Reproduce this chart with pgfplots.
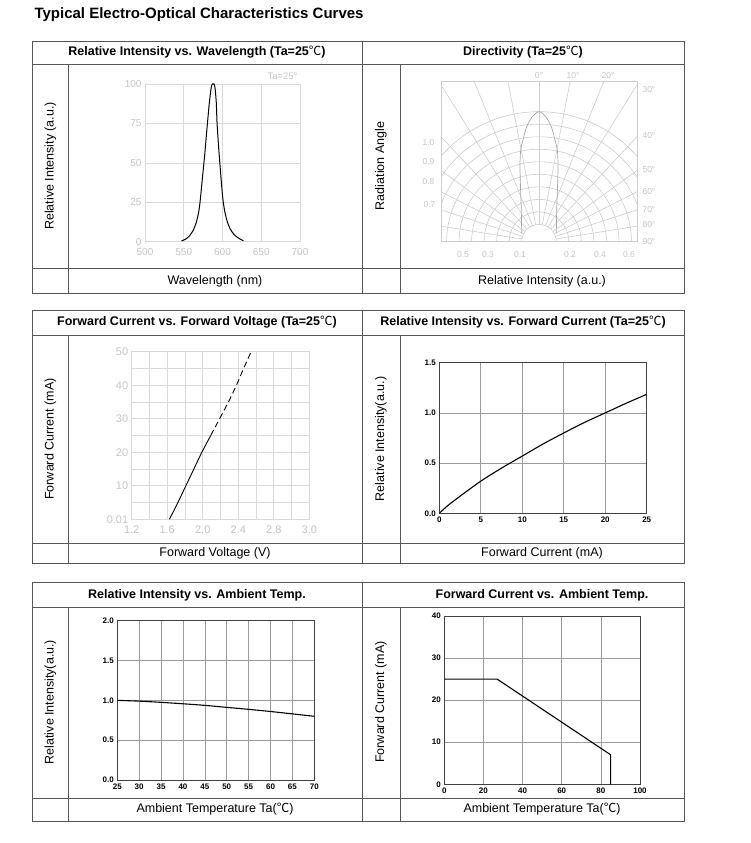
\documentclass[border=0pt]{standalone}
\usepackage{pgfplots}
\pgfplotsset{compat=1.18}
\usepackage{fontspec}
\setmainfont{Liberation Sans}
\newfontfamily\cjk{Noto Sans CJK SC}
\newcommand{\degC}{{\mdseries\cjk ℃}}
\definecolor{boxc}{HTML}{555555}
\definecolor{scan}{HTML}{D9D9D9}
\definecolor{polar}{HTML}{CDCDCD}
\definecolor{scantxt}{HTML}{C4C4C4}
\definecolor{gridc}{HTML}{9A9A9A}
\newcommand{\ttl}{\fontsize{12.5}{15}\selectfont\bfseries}
\newcommand{\lbl}{\fontsize{12.5}{15}\selectfont}
\pgfplotsset{
  scanaxis/.style={anchor=south west, scale only axis, grid=major,
    grid style={scan, line width=0.6pt}, axis line style={scan, line width=0.6pt},
    major tick length=0pt, minor tick length=0pt,
    ticklabel style={font=\fontsize{10}{12}\selectfont, text=scantxt},
    xticklabel style={yshift=-3pt}},
  boldaxis/.style={anchor=south west, scale only axis, grid=major,
    grid style={gridc, line width=0.6pt}, axis line style={black!75, line width=0.7pt},
    major tick length=0pt,
    ticklabel style={font=\fontsize{8}{9}\selectfont\bfseries, text=black}},
}
\begin{document}
\begin{tikzpicture}[x=1pt,y=1pt]
\path (0,0) rectangle (750,843);
\node[anchor=west,font=\fontsize{15}{18}\selectfont\bfseries] at (31,843-15) {Typical Electro-Optical Characteristics Curves};

% ---------- boxes ----------
\begin{scope}[draw=boxc, line width=0.9pt]
% box 1
\draw (32,843-41) rectangle (684,843-293);
\draw (32,843-64) -- (684,843-64);
\draw (32,843-268) -- (684,843-268);
\draw (362,843-41) -- (362,843-293);
\draw (68.5,843-64) -- (68.5,843-293);
\draw (400,843-64) -- (400,843-293);
% box 2
\draw (32,843-310) rectangle (684,843-563);
\draw (32,843-335) -- (684,843-335);
\draw (32,843-543) -- (684,843-543);
\draw (362,843-310) -- (362,843-563);
\draw (68.5,843-335) -- (68.5,843-563);
\draw (400,843-335) -- (400,843-563);
% box 3
\draw (32,843-582) rectangle (684,843-821);
\draw (32,843-607) -- (684,843-607);
\draw (32,843-798) -- (684,843-798);
\draw (362,843-582) -- (362,843-821);
\draw (68.5,843-607) -- (68.5,843-821);
\draw (400,843-607) -- (400,843-821);
\end{scope}

% ---------- titles and labels ----------
\node[font=\ttl] at (197,843-52.5) {Relative Intensity vs. Wavelength (Ta=25\degC)};
\node[font=\ttl] at (523,843-52.5) {Directivity (Ta=25\degC)};
\node[font=\ttl] at (197,843-322.5) {Forward Current vs. Forward Voltage (Ta=25\degC)};
\node[font=\ttl] at (523,843-322.5) {Relative Intensity vs. Forward Current (Ta=25\degC)};
\node[font=\ttl] at (197,843-595) {Relative Intensity vs. Ambient Temp.};
\node[font=\ttl] at (542,843-595) {Forward Current vs. Ambient Temp.};

\node[font=\lbl] at (215,843-281) {Wavelength (nm)};
\node[font=\lbl] at (542,843-281) {Relative Intensity (a.u.)};
\node[font=\lbl] at (215,843-553.5) {Forward Voltage (V)};
\node[font=\lbl] at (542,843-553.5) {Forward Current (mA)};
\node[font=\lbl] at (215,843-809.5) {Ambient Temperature Ta(\degC)};
\node[font=\lbl] at (542,843-809.5) {Ambient Temperature Ta(\degC)};

\node[font=\lbl, rotate=90] at (50.5,843-166) {Relative Intensity (a.u.)};
\node[font=\lbl, rotate=90] at (381,843-166) {Radiation Angle};
\node[font=\lbl, rotate=90] at (50.5,843-439) {Forward Current (mA)};
\node[font=\lbl, rotate=90] at (381,843-439) {Relative Intensity(a.u.)};
\node[font=\lbl, rotate=90] at (50.5,843-702) {Relative Intensity(a.u.)};
\node[font=\lbl, rotate=90] at (381,843-702) {Forward Current (mA)};

% ---------- panel 1: spectrum ----------
\begin{axis}[scanaxis, at={(145pt,601.3pt)}, width=155pt, height=157.7pt,
  xmin=500, xmax=700, ymin=0, ymax=100,
  xtick={500,550,600,650,700}, xticklabels={500,550,600,650,700},
  ytick={0,25,50,75,100}, yticklabels={0,25,50,75,100}]
\addplot[black, line width=1pt, smooth, tension=0.4] coordinates {
(547,0.5) (552,1.5) (557,3.5) (562,7) (566,12) (569,18) (571,25) (574,40)
(577,55) (580,72) (583,88) (585.5,98) (587,100) (589,100) (590.5,97)
(592,88) (593,75) (595,60) (597.5,44) (599.5,32) (601,25) (603,19)
(606,13) (610,8) (615,4.5) (620,2.5) (627,0.5)};
\end{axis}
\node[anchor=east, font=\fontsize{9.5}{11}\selectfont, text=scantxt] at (301,843-76) {Ta=25°};

% ---------- panel 2: directivity ----------
\begin{axis}[anchor=south west, scale only axis, at={(441pt,601.3pt)}, width=196pt, height=160pt,
  xmin=-98, xmax=98, ymin=0, ymax=160, xtick=\empty, ytick=\empty,
  axis line style={polar, line width=0.6pt}]
\pgfplotsinvokeforeach{17.3,29.8,42.3,54.9,67.4,79.9,92.4,104.9,117.5,130}{
  \draw[polar, line width=0.6pt] (axis cs:0,0) circle[radius=#1pt];
}
\pgfplotsinvokeforeach{-90,-81,-72,-63,-54,-43,-32,-22,-11,0,11,22,32,43,54,63,72,81,90}{
  \draw[polar, line width=0.6pt] (axis cs:{17.3*sin(#1)},{17.3*cos(#1)}) -- (axis cs:{220*sin(#1)},{220*cos(#1)});
}
\addplot[gray!70, line width=0.7pt, smooth, tension=0.5] coordinates {
(-17.3,8) (-17.7,31.7) (-18.3,48.3) (-19,75) (-18.3,91.7) (-16,101.7) (-12.3,115)
(-6.7,125) (0,130) (6.7,125) (12.3,115) (16,101.7) (18.3,91.7) (19,75) (18.3,48.3)
(17.7,31.7) (17.3,8)};
\end{axis}
\begin{scope}[font=\fontsize{8.5}{10}\selectfont, text=scantxt]
\node at (539,843-76) {0°};
\node at (573,843-76) {10°};
\node at (608,843-76) {20°};
\node[anchor=west] at (639,843-90) {30°};
\node[anchor=west] at (639,843-136) {40°};
\node[anchor=west] at (639,843-170) {50°};
\node[anchor=west] at (639,843-192) {60°};
\node[anchor=west] at (639,843-210) {70°};
\node[anchor=west] at (639,843-225) {80°};
\node[anchor=west] at (639,843-242) {90°};
\node[anchor=east] at (438,843-143) {1.0};
\node[anchor=east] at (438,843-162) {0.9};
\node[anchor=east] at (438,843-182) {0.8};
\node[anchor=east] at (439,843-205) {0.7};
\node at (463,843-255) {0.5};
\node at (488,843-255) {0.3};
\node at (520,843-255) {0.1};
\node at (570,843-255) {0.2};
\node at (600,843-255) {0.4};
\node at (629,843-255) {0.6};
\end{scope}

% ---------- panel 3: IV ----------
\begin{axis}[scanaxis, at={(131.7pt,323.7pt)}, width=177.6pt, height=167.6pt,
  xmin=1.2, xmax=3.2, ymin=0, ymax=50, grid=both,
  minor grid style={scan, line width=0.6pt},
  xtick={1.2,1.6,2.0,2.4,2.8,3.2}, xticklabels={1.2,1.6,2.0,2.4,2.8,3.0},
  minor xtick={1.4,1.8,2.2,2.6,3.0},
  ytick={0,10,20,30,40,50}, yticklabels={0.01,10,20,30,40,50},
  minor ytick={5,15,25,35,45},
  ticklabel style={font=\fontsize{11}{13}\selectfont, text=scantxt}]
\addplot[black, line width=0.9pt, smooth] coordinates {
(1.625,0) (1.72,5) (1.81,10) (1.90,15) (1.99,20) (2.09,25)};
\addplot[black, line width=0.9pt, dash pattern=on 6pt off 3.5pt] coordinates {
(2.09,25) (2.19,30) (2.29,35) (2.38,40) (2.46,45) (2.545,50)};
\end{axis}

% ---------- panel 4: RI vs IF ----------
\begin{axis}[boldaxis, at={(439.3pt,329.7pt)}, width=207.4pt, height=150.6pt,
  xmin=0, xmax=25, ymin=0, ymax=1.5,
  xtick={0,5,10,15,20,25}, xticklabels={0,5,10,15,20,25},
  ytick={0,0.5,1,1.5}, yticklabels={0.0,0.5,1.0,1.5}]
\addplot[black, line width=1.1pt, smooth] coordinates {
(0,0) (1,0.075) (2.5,0.17) (5,0.32) (7.5,0.45) (10,0.57) (12.5,0.69)
(15,0.80) (17.5,0.905) (20,1.0) (22.5,1.095) (25,1.185)};
\end{axis}

% ---------- panel 5: RI vs Ta ----------
\begin{axis}[boldaxis, at={(117.3pt,63pt)}, width=197pt, height=159.3pt,
  xmin=25, xmax=70, ymin=0, ymax=2,
  xtick={25,30,...,70}, xticklabels={25,30,35,40,45,50,55,60,65,70},
  ytick={0,0.5,1,1.5,2}, yticklabels={0.0,0.5,1.0,1.5,2.0}]
\addplot[black, line width=1.1pt, smooth] coordinates {
(25,1.0) (30,0.99) (35,0.975) (40,0.957) (45,0.937) (50,0.912)
(55,0.887) (60,0.86) (65,0.83) (70,0.80)};
\end{axis}

% ---------- panel 6: IF vs Ta ----------
\begin{axis}[boldaxis, at={(444.3pt,58.7pt)}, width=195.7pt, height=168.3pt,
  xmin=0, xmax=100, ymin=0, ymax=40,
  xtick={0,20,40,60,80,100}, xticklabels={0,20,40,60,80,100},
  ytick={0,10,20,30,40}, yticklabels={0,10,20,30,40}]
\addplot[black, line width=1.1pt] coordinates {
(0,25) (27,25) (85,7) (85,0)};
\end{axis}
\end{tikzpicture}
\end{document}
